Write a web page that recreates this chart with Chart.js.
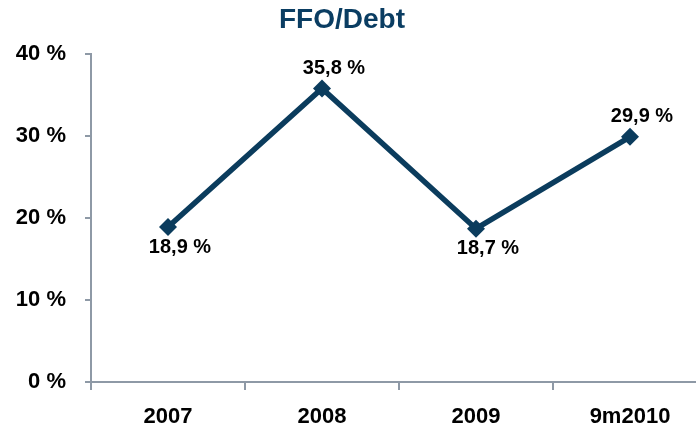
<!DOCTYPE html>
<html>
<head>
<meta charset="utf-8">
<script src="https://cdn.jsdelivr.net/npm/chart.js@4"></script>
<style>
    html, body { margin: 0; padding: 0; background: #fff; overflow: hidden; }
    #wrap { position: relative; width: 716px; height: 433px; }
</style>
</head>
<body>
<div id="wrap"><canvas id="ffoChart"></canvas></div>
<script>
// Chart data
const categories = ['2007', '2008', '2009', '9m2010'];
const ffoDebt = [18.9, 35.8, 18.7, 29.9];
const yTicks = [0, 10, 20, 30, 40];

const chartTitle = 'FFO/Debt';
const axisColor = '#8e99a6';
const lineColor = '#0b3c5d';
const font = "'Liberation Sans', Arial, sans-serif";

Chart.defaults.color = '#000';
Chart.defaults.font.family = font;

function fmt(v) {
    return v.toFixed(1).replace('.', ',') + ' %';
}

// Title + value labels drawn on the canvas
const labelPlugin = {
    id: 'ffoLabels',
    afterDraw(chart) {
        const ctx = chart.ctx;
        ctx.save();
        ctx.fillStyle = '#0a3d62';
        ctx.font = 'bold 28px ' + font;
        ctx.textAlign = 'center';
        ctx.textBaseline = 'alphabetic';
        ctx.fillText(chartTitle, 342, 28);

        const meta = chart.getDatasetMeta(0);
        const vals = chart.data.datasets[0].data;
        ctx.fillStyle = '#000';
        ctx.font = 'bold 20px ' + font;
        ctx.textBaseline = 'middle';
        meta.data.forEach((pt, i) => {
            const prev = i > 0 ? vals[i - 1] : vals[i + 1];
            const next = i < vals.length - 1 ? vals[i + 1] : vals[i - 1];
            const above = vals[i] >= (prev + next) / 2;
            const y = above ? pt.y - 20 : pt.y + 20;
            ctx.fillText(fmt(vals[i]), pt.x + 12, y);
        });
        ctx.restore();
    }
};

new Chart(document.getElementById('ffoChart'), {
    type: 'line',
    data: {
        labels: categories,
        datasets: [{
            data: ffoDebt,
            borderColor: lineColor,
            backgroundColor: lineColor,
            borderWidth: 5.5,
            pointStyle: 'rectRot',
            pointRadius: 9,
            pointBorderWidth: 0,
            tension: 0
        }]
    },
    options: {
        responsive: true,
        maintainAspectRatio: false,
        animation: false,
        layout: { padding: { top: 54, left: 0, right: 0, bottom: 0 } },
        plugins: {
            legend: { display: false },
            title: { display: false },
            tooltip: { enabled: false }
        },
        scales: {
            x: {
                offset: true,
                grid: {
                    offset: true,
                    drawOnChartArea: false,
                    color: axisColor,
                    lineWidth: 2,
                    tickLength: 8
                },
                border: { color: axisColor, width: 2 },
                ticks: {
                    padding: 14,
                    font: { size: 22, weight: 'bold' }
                },
                afterFit(scale) { scale.height = 51; }
            },
            y: {
                min: yTicks[0],
                max: yTicks[yTicks.length - 1],
                afterBuildTicks(scale) {
                    scale.ticks = yTicks.map(v => ({ value: v }));
                },
                grid: {
                    drawOnChartArea: false,
                    color: axisColor,
                    lineWidth: 2,
                    tickLength: 6
                },
                border: { color: axisColor, width: 2 },
                ticks: {
                    padding: 19,
                    font: { size: 22, weight: 'bold' },
                    callback: v => v + ' %'
                },
                afterFit(scale) { scale.width = 91; }
            }
        }
    },
    plugins: [labelPlugin]
});
</script>
</body>
</html>
